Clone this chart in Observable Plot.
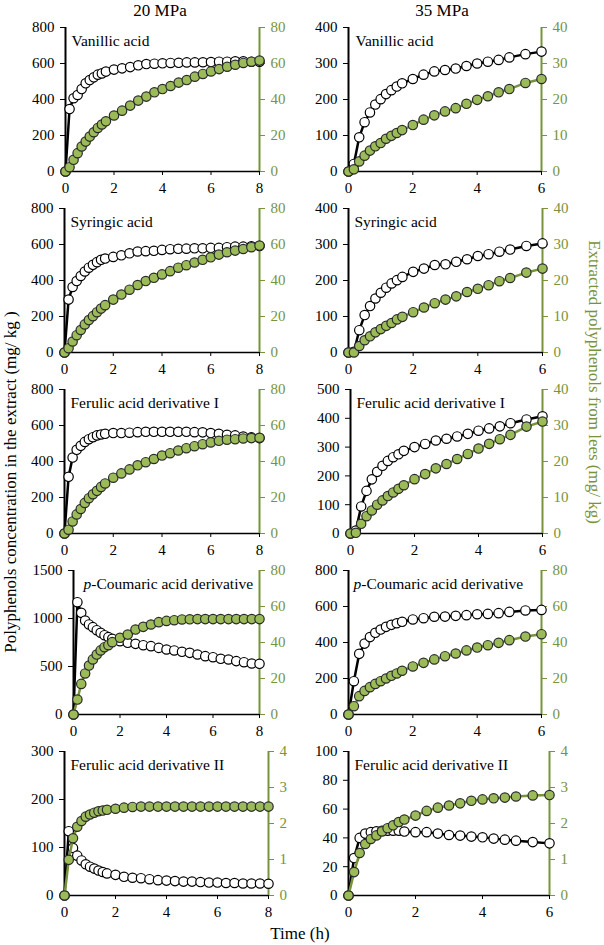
<!DOCTYPE html>
<html><head><meta charset="utf-8">
<script src="https://cdn.jsdelivr.net/npm/d3@7"></script>
<script src="https://cdn.jsdelivr.net/npm/@observablehq/plot@0.6"></script>
<style>
body{margin:0;background:#fff;}
#wrap{position:relative;width:604px;height:945px;background:#fff;font-family:"Liberation Serif","Times New Roman",serif;overflow:hidden}
.lbl{position:absolute;white-space:nowrap;transform:translate(-50%,-50%);line-height:1;font-size:17px;color:#000}
#wrap svg, #wrap svg text{font-family:"Liberation Serif","Times New Roman",serif !important;}
#wrap svg text{font-size:15.5px !important;}
#wrap svg text.ticklbl{font-size:15px !important;}
</style></head><body><div id="wrap"></div>
<script>
// ---------- data ----------
const columnTitles = ["20 MPa", "35 MPa"];
const compounds = ["Vanillic acid", "Syringic acid", "Ferulic acid derivative I", "p-Coumaric acid derivative", "Ferulic acid derivative II"];
const yTitleLeft = "Polyphenols concentration in the extract (mg/ kg )";
const yTitleRight = "Extracted polyphenols from lees (mg/ kg)";
const xTitle = "Time (h)";

const time20 = [0,0.167,0.333,0.5,0.667,0.833,1,1.167,1.333,1.5,1.667,2,2.333,2.667,3,3.333,3.667,4,4.333,4.667,5,5.333,5.667,6,6.333,6.667,7,7.333,7.667,8];
const time35 = [0,0.167,0.333,0.5,0.667,0.833,1,1.167,1.333,1.5,1.667,2,2.333,2.667,3,3.333,3.667,4,4.333,4.667,5,5.5,6];

const xTicks20 = [0,2,4,6,8];
const xTicks35 = [0,2,4,6];

// concentration in extract (left axis) and extracted from lees (right axis)
const vanillic20Conc = [0,347,407,425,458,490,508,523,538,545,555,566,573,580,590,597,599,601,603,604,606,606,607,608,610,610,612,612,610,610];
const vanillic20Ext  = [0,2.4,6.5,10.2,13.9,16.6,19.4,21.8,24.2,26.1,27.9,31.1,33.8,36.6,39.4,41.6,44.0,45.8,47.5,49.4,50.8,52.7,54.2,55.6,56.9,58.2,59.3,60.3,61.0,61.6];
const vanillic35Conc = [0,21,95,137,164,186,201,215,226,236,245,257,269,278,282,286,293,300,305,310,317,326,333];
const vanillic35Ext  = [0,0.6,2.8,4.4,5.8,7.0,7.9,9.1,9.9,10.7,11.5,12.9,14.4,15.6,16.7,17.6,18.8,19.9,20.9,22.0,22.9,24.6,25.7];

const syringic20Conc = [0,294,364,397,425,450,471,487,502,515,522,531,540,551,561,563,565,570,574,576,577,579,579,581,581,585,588,588,590,592];
const syringic20Ext  = [0,2.4,6.1,9.6,12.5,15.6,18.0,20.2,22.4,24.4,26.3,29.4,32.2,34.9,37.5,39.7,41.5,43.4,45.2,47.1,48.5,50.0,51.5,52.9,54.4,55.7,56.6,57.5,58.5,59.4];
const syringic35Conc = [0,2,62,104,129,150,166,180,192,201,210,224,233,243,245,252,259,268,273,280,286,296,303];
const syringic35Ext  = [0,0,1.8,3.4,4.5,5.6,6.5,7.4,8.2,9.2,9.9,11.2,12.5,13.7,14.7,15.6,16.8,17.7,18.7,19.8,20.7,22.2,23.3];

const ferulicI20Conc = [0,315,422,465,487,509,524,535,545,550,554,558,558,560,563,565,565,565,565,565,565,563,562,558,554,548,545,539,534,530];
const ferulicI20Ext  = [0,2.1,6.7,10.6,13.6,17.0,19.6,21.8,23.7,25.9,27.8,31.0,33.4,35.6,37.9,39.6,41.4,43.3,44.6,46.1,47.4,48.5,49.6,50.6,51.5,52.1,52.4,52.8,53.0,53.2];
const ferulicI35Conc = [0,10,94,148,188,214,235,252,265,275,287,300,311,323,329,337,346,357,365,372,383,396,407];
const ferulicI35Ext  = [0,0.2,2.7,4.8,6.4,8.0,9.2,10.4,11.4,12.4,13.4,15.1,16.5,18.1,19.3,20.7,22.1,23.6,24.9,26.2,27.4,29.7,31.1];

const coumaric20Conc = [0,1170,1059,979,938,910,878,851,826,806,788,764,747,736,722,712,694,677,667,653,642,625,608,597,580,573,556,545,531,528];
const coumaric20Ext  = [0,8.3,17.0,22.8,27.2,30.6,33.3,35.6,37.4,38.5,40.2,42.6,44.4,47.2,48.7,50.0,51.3,52.0,52.4,52.8,52.9,53.0,53.0,53.0,53.0,53.0,53.0,53.0,53.0,53.0];
const coumaric35Conc = [0,185,337,394,430,454,472,487,498,507,515,528,535,543,544,548,552,557,559,563,570,578,581];
const coumaric35Ext  = [0,4.6,10.2,13.1,15.2,17.0,18.5,20.0,21.5,22.8,24.3,26.7,28.7,30.6,32.4,33.9,35.6,37.2,38.5,39.8,41.3,43.3,44.6];

const ferulicII20Conc = [0,134,99,83,73,65,60,56,52,49,46,43,39,37,36,34,32,31,30,29,29,28,27,27,26,26,25,25,25,24.5];
const ferulicII20Ext  = [0,0.99,1.59,1.91,2.07,2.19,2.25,2.30,2.34,2.36,2.38,2.41,2.44,2.46,2.47,2.47,2.47,2.47,2.47,2.47,2.47,2.47,2.47,2.47,2.47,2.47,2.47,2.47,2.47,2.47];
const ferulicII35Conc = [0,26,40,43,44,44.6,45,45,45,45,44.4,44,44,43,42,41.6,40.9,40.4,39.5,38.8,38.1,37.1,36.2];
const ferulicII35Ext  = [0,0.65,1.18,1.43,1.57,1.67,1.78,1.87,1.95,2.04,2.11,2.22,2.35,2.44,2.50,2.56,2.63,2.67,2.70,2.72,2.75,2.78,2.79];

// axis tick labels (left, right)
const yTicksVanillic20 = [0,200,400,600,800],  rTicksVanillic20 = [0,20,40,60,80];
const yTicksVanillic35 = [0,100,200,300,400],  rTicksVanillic35 = [0,10,20,30,40];
const yTicksSyringic20 = [0,200,400,600,800],  rTicksSyringic20 = [0,20,40,60,80];
const yTicksSyringic35 = [0,100,200,300,400],  rTicksSyringic35 = [0,10,20,30,40];
const yTicksFerulicI20 = [0,200,400,600,800],  rTicksFerulicI20 = [0,20,40,60,80];
const yTicksFerulicI35 = [0,100,200,300,400,500], rTicksFerulicI35 = [0,10,20,30,40];
const yTicksCoumaric20 = [0,500,1000,1500],    rTicksCoumaric20 = [0,20,40,60,80];
const yTicksCoumaric35 = [0,200,400,600,800],  rTicksCoumaric35 = [0,20,40,60,80];
const yTicksFerulicII20 = [0,100,200,300],     rTicksFerulicII20 = [0,1,2,3,4];
const yTicksFerulicII35 = [0,20,40,60,80,100], rTicksFerulicII35 = [0,1,2,3,4];

// ---------- panel table ----------
const panels = [
  {row:0,col:0,name:compounds[0],t:time20,xTicks:xTicks20,conc:vanillic20Conc,ext:vanillic20Ext,yTicks:yTicksVanillic20,rTicks:rTicksVanillic20},
  {row:0,col:1,name:compounds[0],t:time35,xTicks:xTicks35,conc:vanillic35Conc,ext:vanillic35Ext,yTicks:yTicksVanillic35,rTicks:rTicksVanillic35},
  {row:1,col:0,name:compounds[1],t:time20,xTicks:xTicks20,conc:syringic20Conc,ext:syringic20Ext,yTicks:yTicksSyringic20,rTicks:rTicksSyringic20},
  {row:1,col:1,name:compounds[1],t:time35,xTicks:xTicks35,conc:syringic35Conc,ext:syringic35Ext,yTicks:yTicksSyringic35,rTicks:rTicksSyringic35},
  {row:2,col:0,name:compounds[2],t:time20,xTicks:xTicks20,conc:ferulicI20Conc,ext:ferulicI20Ext,yTicks:yTicksFerulicI20,rTicks:rTicksFerulicI20},
  {row:2,col:1,name:compounds[2],t:time35,xTicks:xTicks35,conc:ferulicI35Conc,ext:ferulicI35Ext,yTicks:yTicksFerulicI35,rTicks:rTicksFerulicI35},
  {row:3,col:0,name:compounds[3],t:time20,xTicks:xTicks20,conc:coumaric20Conc,ext:coumaric20Ext,yTicks:yTicksCoumaric20,rTicks:rTicksCoumaric20},
  {row:3,col:1,name:compounds[3],t:time35,xTicks:xTicks35,conc:coumaric35Conc,ext:coumaric35Ext,yTicks:yTicksCoumaric35,rTicks:rTicksCoumaric35},
  {row:4,col:0,name:compounds[4],t:time20,xTicks:xTicks20,conc:ferulicII20Conc,ext:ferulicII20Ext,yTicks:yTicksFerulicII20,rTicks:rTicksFerulicII20},
  {row:4,col:1,name:compounds[4],t:time35,xTicks:xTicks35,conc:ferulicII35Conc,ext:ferulicII35Ext,yTicks:yTicksFerulicII35,rTicks:rTicksFerulicII35}
];

// ---------- layout (positions / styles) ----------
const PW = 302, PH = 181, ROWSTEP = 181;
const geom = [
  [{mL:65,mR:43,dx:6},{mL:46,mR:63,dx:7}],
  [{mL:64,mR:43,dx:6},{mL:46,mR:62,dx:6}],
  [{mL:64,mR:43,dx:6},{mL:48,mR:62,dx:6}],
  [{mL:73,mR:43,dx:10},{mL:46,mR:63,dx:5}],
  [{mL:64,mR:34,dx:6},{mL:46,mR:55,dx:6}]
];
const GREEN = "#77933c", GREEN_FILL = "#9bbb59";
const FONT = '"Liberation Serif","Times New Roman",serif';
const wrap = document.getElementById("wrap");
const NS = "http://www.w3.org/2000/svg";

panels.forEach(p => {
  const g = geom[p.row][p.col];
  const xMax = p.xTicks[p.xTicks.length - 1];
  const yMax = p.yTicks[p.yTicks.length - 1];
  const rMax = p.rTicks[p.rTicks.length - 1];
  const f = yMax / rMax;
  const concData = p.t.map((t, i) => ({t, v: p.conc[i]}));
  const extData = p.t.map((t, i) => ({t, v: p.ext[i] * f}));
  const svg = Plot.plot({
    width: PW, height: PH,
    marginTop: 27, marginBottom: 10, marginLeft: g.mL, marginRight: g.mR,
    x: {domain: [0, xMax]},
    y: {domain: [0, yMax]},
    style: {background: "transparent", overflow: "visible", color: "#000"},
    marks: [
      Plot.ruleY([0], {stroke: "#000", strokeWidth: 1.5}),
      Plot.ruleX([0], {stroke: "#000", strokeWidth: 2}),
      Plot.ruleX([xMax], {stroke: GREEN, strokeWidth: 2}),
      Plot.axisY(p.yTicks, {anchor: "left", tickSize: 5, tickPadding: 6, stroke: "#000", fill: "#000", tickFormat: d => String(d), label: null, ariaLabel: "ytick"}),
      Plot.axisY(p.rTicks.map(v => v * f), {anchor: "right", tickSize: 5, tickPadding: 6, stroke: GREEN, fill: GREEN, tickFormat: d => String(+(d / f).toFixed(4)), label: null}),
      Plot.axisX(p.xTicks, {anchor: "bottom", tickSize: 4, tickPadding: 7, stroke: "#000", fill: "#000", tickFormat: d => String(d), label: null}),
      Plot.line(concData, {x: "t", y: "v", stroke: "#000", strokeWidth: 2.5}),
      Plot.dot(concData, {x: "t", y: "v", r: 4.7, fill: "#fff", stroke: "#000", strokeWidth: 1.2}),
      Plot.line(extData, {x: "t", y: "v", stroke: GREEN, strokeWidth: 2.5}),
      Plot.dot(extData, {x: "t", y: "v", r: 4.7, fill: GREEN_FILL, stroke: "#2a2a2a", strokeWidth: 1.2}),
      Plot.text([p.name], {frameAnchor: "top-left", text: d => d, dx: g.dx, dy: 13.5, textAnchor: "start", lineAnchor: "middle", fill: "#000", className: "pname"})
    ]
  });
  svg.style.position = "absolute";
  svg.style.left = (p.col * PW) + "px";
  svg.style.top = (p.row * ROWSTEP) + "px";
  svg.style.width = PW + "px";
  svg.style.maxWidth = "none";
  svg.querySelectorAll("text").forEach(t => {
    const txt = t.textContent;
    if (txt !== p.name) t.classList.add("ticklbl");
    if (txt === "p-Coumaric acid derivative") {
      t.textContent = "";
      const a = document.createElementNS(NS, "tspan");
      a.setAttribute("font-style", "italic");
      a.textContent = "p";
      const b = document.createElementNS(NS, "tspan");
      b.textContent = "-Coumaric acid derivative";
      t.appendChild(a); t.appendChild(b);
    }
  });
  wrap.appendChild(svg);
});

function addLabel(text, cx, cy, rot, color) {
  const d = document.createElement("div");
  d.className = "lbl";
  d.textContent = text;
  d.style.left = cx + "px";
  d.style.top = cy + "px";
  d.style.transform = `translate(-50%,-50%)` + (rot ? ` rotate(${rot}deg)` : "");
  if (color) d.style.color = color;
  wrap.appendChild(d);
}
addLabel(columnTitles[0], 160, 10, 0);
addLabel(columnTitles[1], 442, 10, 0);
addLabel(yTitleLeft, 10, 482, -90);
addLabel(yTitleRight, 594, 382, 90, GREEN);
addLabel(xTitle, 300, 933, 0);
</script></body></html>
